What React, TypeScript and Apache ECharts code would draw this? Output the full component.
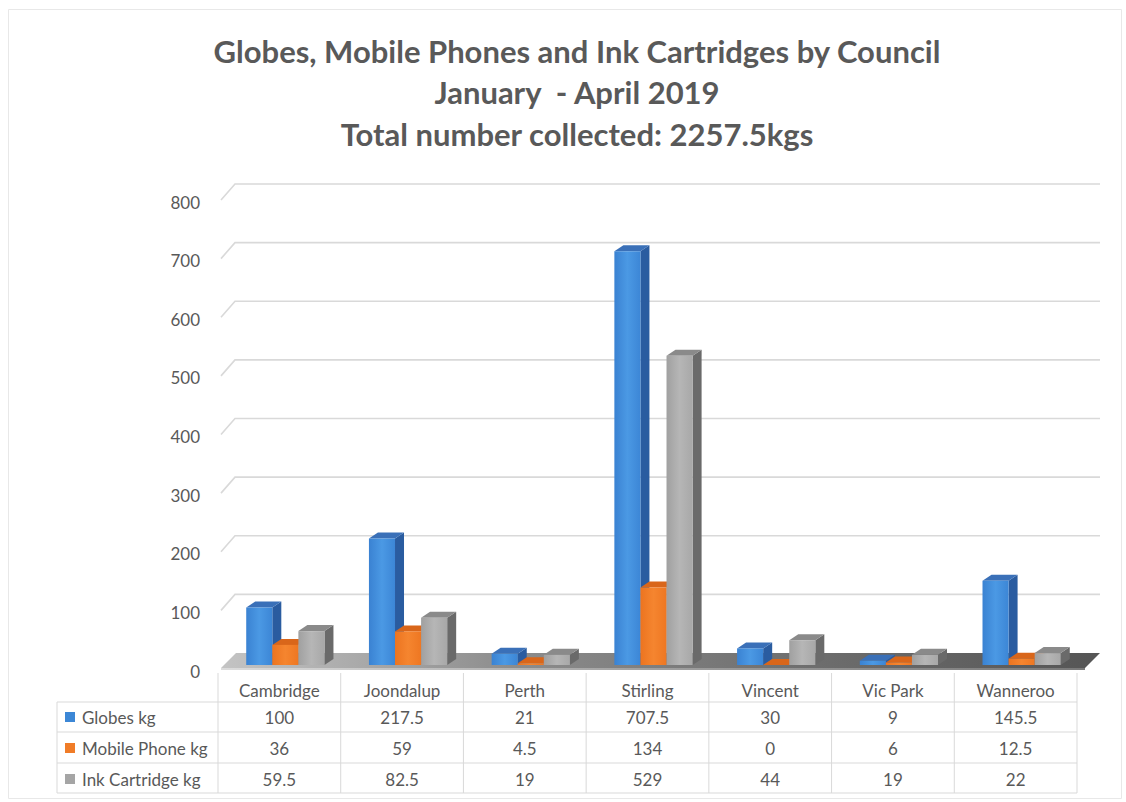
import React, { useEffect, useRef } from 'react';
import * as echarts from 'echarts';

// ---- data ----
const TITLE_LINES = [
  'Globes, Mobile Phones and Ink Cartridges by Council',
  'January  - April 2019',
  'Total number collected: 2257.5kgs',
];
const COUNCILS = ['Cambridge', 'Joondalup', 'Perth', 'Stirling', 'Vincent', 'Vic Park', 'Wanneroo'];
const GLOBES_KG = [100, 217.5, 21, 707.5, 30, 9, 145.5];
const MOBILE_PHONE_KG = [36, 59, 4.5, 134, 0, 6, 12.5];
const INK_CARTRIDGE_KG = [59.5, 82.5, 19, 529, 44, 19, 22];
const SERIES_NAMES = ['Globes kg', 'Mobile Phone kg', 'Ink Cartridge kg'];
const SERIES_VALUES = [GLOBES_KG, MOBILE_PHONE_KG, INK_CARTRIDGE_KG];
const Y_MIN = 0;
const Y_MAX = 800;
const Y_STEP = 100;

// ---- look ----
const FONT = 'Lato, "Noto Sans", sans-serif';
const TEXT_COLOR = '#595959';
const GRID_COLOR = '#d9d9d9';
const TABLE_FONT_SIZE = 17;
const BAR_STYLES = [
  { front: ['#3a82d2', '#4b99e4', '#3c86d6'], side: '#2a5ca0', top: '#3a70b8', key: '#3c87d6' },
  { front: ['#ec7420', '#f5852f', '#ee7722'], side: '#b9560f', top: '#d9661a', key: '#f07c28' },
  { front: ['#a0a0a0', '#b6b6b6', '#a8a8a8'], side: '#6a6a6a', top: '#8a8a8a', key: '#a5a5a5' },
];

// ---- layout ----
const W = 1126;
const H = 802;
const GRID_LEFT = 218;
const GRID_RIGHT = 49;
const GRID_TOP = 197;
const GRID_BOTTOM = 136;
const WALL_DX = 15;
const WALL_DY = -13;
const BAR_FRAC = 0.2125;
const GROUP_START = -0.27;
const BAR_DX = 9;
const BAR_DY = -6;
const Y_LABEL_GAP = 18;
const Y_LABEL_DROP = 5;

const TABLE_TOP = 673;
const HEADER_Y = 690;
const ROW_LINES = [702, 732, 763, 793];
const ROW_CENTERS = [717, 748, 779];
const LABEL_LEFT = 57;

function hGrad(stops: string[]) {
  return new echarts.graphic.LinearGradient(0, 0, 1, 0, stops.map((c, i) => ({ offset: i / (stops.length - 1), color: c })));
}

function textStyle(text: string, align: string) {
  return {
    text, fill: TEXT_COLOR, fontSize: TABLE_FONT_SIZE, fontFamily: FONT,
    align, verticalAlign: 'middle', textAlign: align, textVerticalAlign: 'middle',
  };
}

function buildTable() {
  const els: any[] = [];
  const gridW = W - GRID_LEFT - GRID_RIGHT;
  const colW = gridW / COUNCILS.length;
  const right = GRID_LEFT + gridW;
  const lineStyle = { stroke: GRID_COLOR, lineWidth: 1 };
  // horizontal rules
  ROW_LINES.forEach((y) => {
    els.push({ type: 'line', shape: { x1: LABEL_LEFT, y1: y, x2: right, y2: y }, style: lineStyle, silent: true });
  });
  // vertical rules
  els.push({ type: 'line', shape: { x1: LABEL_LEFT, y1: ROW_LINES[0], x2: LABEL_LEFT, y2: ROW_LINES[ROW_LINES.length - 1] }, style: lineStyle, silent: true });
  for (let i = 0; i <= COUNCILS.length; i++) {
    const x = GRID_LEFT + colW * i;
    els.push({ type: 'line', shape: { x1: x, y1: TABLE_TOP, x2: x, y2: ROW_LINES[ROW_LINES.length - 1] }, style: lineStyle, silent: true });
  }
  // header row
  COUNCILS.forEach((name, i) => {
    els.push({ type: 'text', x: GRID_LEFT + colW * (i + 0.5), y: HEADER_Y, silent: true, style: textStyle(name, 'center') });
  });
  // series rows with their colour keys
  SERIES_NAMES.forEach((name, r) => {
    const cy = ROW_CENTERS[r];
    els.push({ type: 'rect', shape: { x: 65, y: cy - 5, width: 10, height: 10 }, style: { fill: BAR_STYLES[r].key }, silent: true });
    els.push({ type: 'text', x: 82, y: cy, silent: true, style: textStyle(name, 'left') });
    SERIES_VALUES[r].forEach((v, i) => {
      els.push({ type: 'text', x: GRID_LEFT + colW * (i + 0.5), y: cy, silent: true, style: textStyle(String(v), 'center') });
    });
  });
  // chart area frame
  els.push({ type: 'rect', shape: { x: 8.5, y: 9.5, width: 1113, height: 789 }, style: { fill: 'none', stroke: '#e8e8e8', lineWidth: 1 }, silent: true, z: -10 });
  return els;
}

// back wall gridlines, value labels and the floor
function renderWalls(params: any, api: any) {
  const band = api.size([1, 0])[0];
  const left = api.coord([0, 0])[0] - band / 2;
  const right = api.coord([COUNCILS.length - 1, 0])[0] + band / 2;
  const children: any[] = [];
  for (let v = Y_MIN; v <= Y_MAX; v += Y_STEP) {
    const y = api.coord([0, v])[1];
    if (v > Y_MIN) {
      children.push({
        type: 'polyline',
        shape: { points: [[left + 3, y + 3], [left + WALL_DX + 2, y + WALL_DY], [right + 23, y + WALL_DY]] },
        style: { stroke: GRID_COLOR, lineWidth: 1.6, fill: null },
      });
    }
    children.push({
      type: 'text',
      x: left - Y_LABEL_GAP,
      y: y + Y_LABEL_DROP,
      style: {
        text: String(v), fill: TEXT_COLOR, fontSize: TABLE_FONT_SIZE, fontFamily: FONT,
        align: 'right', verticalAlign: 'middle', textAlign: 'right', textVerticalAlign: 'middle',
      },
    });
  }
  const y0 = api.coord([0, Y_MIN])[1];
  children.push({
    type: 'polygon',
    shape: { points: [[left + 3, y0 + 2], [left + WALL_DX + 3, y0 + WALL_DY], [right + 23, y0 + WALL_DY], [right + 8, y0 + 2]] },
    style: { fill: hGrad(['#c4c4c4', '#8c8c8c', '#6e6e6e', '#555555']) },
  });
  children.push({
    type: 'polygon',
    shape: { points: [[left + 3, y0 + 2], [right + 8, y0 + 2], [right + 8, y0 + 4], [left + 3, y0 + 4]] },
    style: { fill: hGrad(['#dcdcdc', '#a0a0a0', '#7a7a7a']) },
  });
  return { type: 'group', children };
}

function makeBarRenderer(si: number) {
  const st = BAR_STYLES[si];
  return (params: any, api: any) => {
    const ci = api.value(0);
    const v = api.value(1);
    const band = api.size([1, 0])[0];
    const base = api.coord([ci, 0]);
    const top = api.coord([ci, v]);
    const w = band * BAR_FRAC;
    const x = base[0] + band * GROUP_START + si * w;
    const y0 = base[1] - 1;
    const y1 = Math.min(top[1], y0);
    return {
      type: 'group',
      children: [
        {
          type: 'polygon',
          shape: { points: [[x + w, y1], [x + w + BAR_DX, y1 + BAR_DY], [x + w + BAR_DX, y0 + BAR_DY], [x + w, y0]] },
          style: { fill: st.side },
        },
        {
          type: 'polygon',
          shape: { points: [[x, y1], [x + BAR_DX, y1 + BAR_DY], [x + w + BAR_DX, y1 + BAR_DY], [x + w, y1]] },
          style: { fill: st.top },
        },
        {
          type: 'rect',
          shape: { x, y: y1, width: w, height: y0 - y1 },
          style: { fill: hGrad(st.front) },
        },
      ],
    };
  };
}

export default function App() {
  const ref = useRef<HTMLDivElement>(null);
  useEffect(() => {
    if (!ref.current) return;
    const chart = echarts.init(ref.current, null, { renderer: 'svg' });
    const barSeries = SERIES_NAMES.map((name, si) => ({
      type: 'custom',
      name,
      z: 3,
      data: SERIES_VALUES[si].map((v, i) => [i, v]),
      encode: { x: 0, y: 1 },
      renderItem: makeBarRenderer(si),
    }));
    chart.setOption({
      animation: false,
      backgroundColor: '#ffffff',
      title: {
        text: TITLE_LINES.join('\n'),
        left: 572,
        top: 25,
        textAlign: 'center',
        textStyle: { fontFamily: FONT, fontSize: 31, fontWeight: 'bold', color: TEXT_COLOR, lineHeight: 41.5 },
      },
      grid: { left: GRID_LEFT, right: GRID_RIGHT, top: GRID_TOP, bottom: GRID_BOTTOM },
      xAxis: {
        type: 'category',
        data: COUNCILS,
        axisLine: { show: false },
        axisTick: { show: false },
        axisLabel: { show: false },
        splitLine: { show: false },
      },
      yAxis: {
        type: 'value',
        min: Y_MIN,
        max: Y_MAX,
        interval: Y_STEP,
        axisLine: { show: false },
        axisTick: { show: false },
        splitLine: { show: false },
        axisLabel: { show: false },
      },
      series: [
        {
          type: 'custom',
          name: 'walls',
          z: 1,
          silent: true,
          data: [[0, 0]],
          encode: { x: 0, y: 1 },
          renderItem: renderWalls,
        },
        ...barSeries,
      ],
      graphic: { elements: buildTable() },
    });
    return () => chart.dispose();
  }, []);
  return <div ref={ref} style={{ position: 'absolute', left: 0, top: 0, width: W, height: H, background: '#fff' }} />;
}
